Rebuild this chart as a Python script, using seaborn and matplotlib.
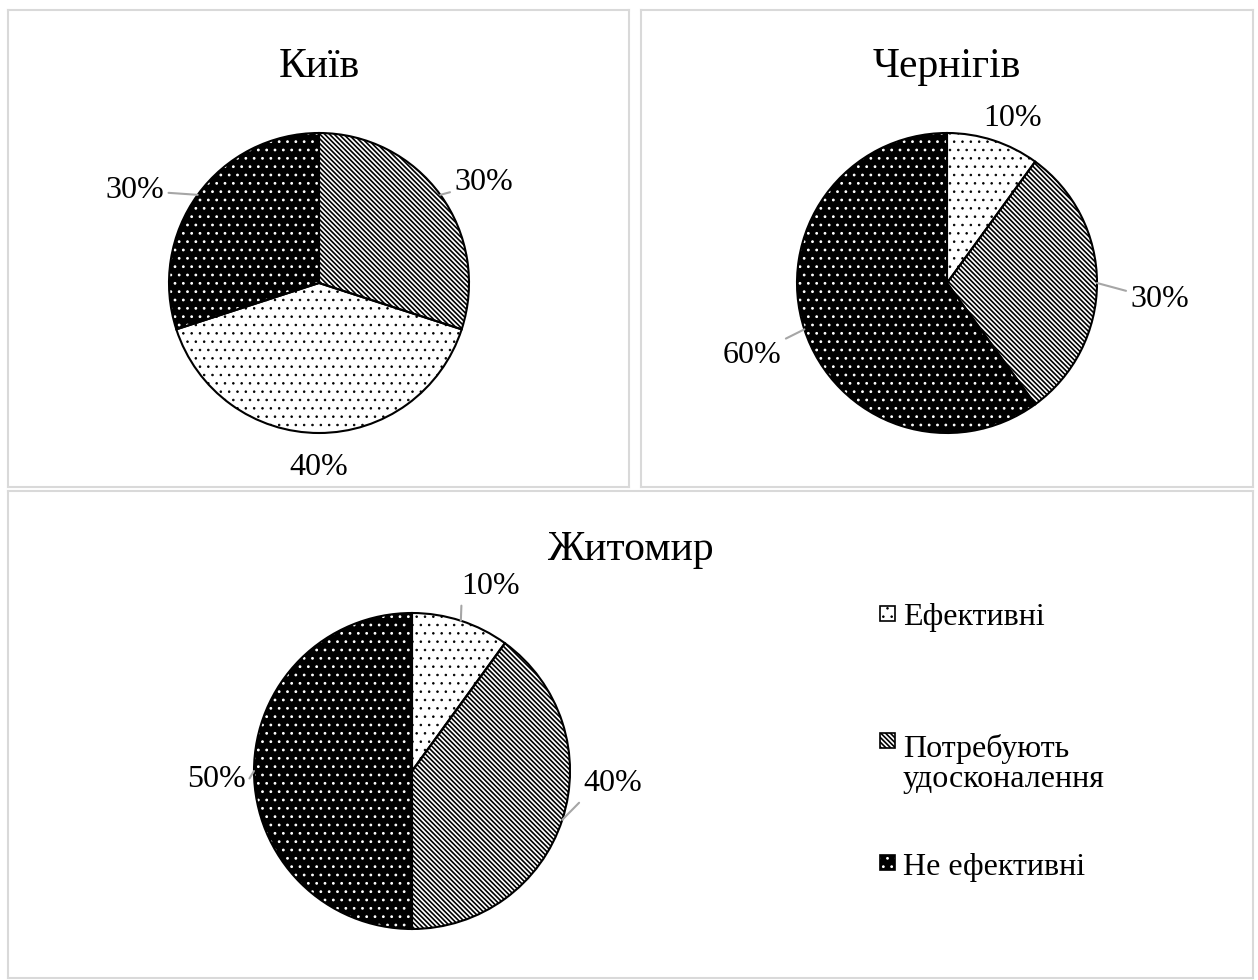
import matplotlib
matplotlib.use("Agg")
import matplotlib.pyplot as plt
from matplotlib.patches import Rectangle
import seaborn as sns
import numpy as np

# data
categories = ["Ефективні", "Потребують удосконалення", "Не ефективні"]
cities = ["Київ", "Чернігів", "Житомир"]
kyiv = [40, 30, 30]
chernihiv = [10, 30, 60]
zhytomyr = [10, 40, 50]

# styles per category
face = ["white", "white", "black"]
hatch_col = ["black", "black", "white"]
hatches = ["..", "\\" * 7, ".."]
hatch_lw = [0.6, 1.2, 0.8]

sns.set_style("white")
plt.rcParams["font.family"] = ["Liberation Serif", "DejaVu Serif"]
plt.rcParams["text.color"] = "black"
plt.rcParams["hatch.linewidth"] = 0.8

fig = plt.figure(figsize=(12.58, 9.8), dpi=100)
W, H = 1258, 980


def style_patch(p, i):
    p.set_facecolor(face[i])
    p.set_edgecolor(hatch_col[i])
    p.set_hatch(hatches[i])
    if hasattr(p, "set_hatch_linewidth"):
        p.set_hatch_linewidth(hatch_lw[i])


def box_axes(x0, y0, x1, y1):
    # axes covering a pixel box of the figure
    ax = fig.add_axes([x0 / W, (H - y1) / H, (x1 - x0) / W, (y1 - y0) / H])
    ax.set_xticks([])
    ax.set_yticks([])
    for s in ax.spines.values():
        s.set_color("#d9d9d9")
        s.set_linewidth(1.5)
    return ax


def draw_pie(ax, vals, order, lab_pos, leaders, relpos=None):
    v = [vals[i] for i in order]
    w1, _ = ax.pie(v, startangle=90, counterclock=False, frame=True,
                   wedgeprops=dict(linewidth=0))
    for w, i in zip(w1, order):
        style_patch(w, i)
    w2, _ = ax.pie(v, startangle=90, counterclock=False, frame=True,
                   colors=["none"] * 3,
                   wedgeprops=dict(linewidth=1.5, edgecolor="black"))
    for w, i in zip(w2, order):
        mid = np.deg2rad((w.theta1 + w.theta2) / 2)
        edge = (np.cos(mid), np.sin(mid))
        props = None
        if leaders[i]:
            props = dict(arrowstyle="-", color="#a6a6a6", lw=1.5,
                         shrinkA=1, shrinkB=0)
            if relpos is not None and relpos[i] is not None:
                props["relpos"] = relpos[i]
        ax.annotate(f"{vals[i]}%", xy=edge, xytext=lab_pos[i],
                    ha="center", va="center_baseline", fontsize=23,
                    arrowprops=props)
    ax.set_aspect("auto")


# Київ
ax1 = box_axes(8, 10, 629, 487)
draw_pie(ax1, kyiv, [1, 0, 2],
         [(0.0, -1.21), (1.10, 0.69), (-1.23, 0.64)], [False, True, True])
ax1.set_xlim(-311 / 150, 310 / 150)
ax1.set_ylim(-204 / 150, 273 / 150)
ax1.text(0, 1.47, cities[0], ha="center", va="center_baseline", fontsize=30)

# Чернігів
ax2 = box_axes(641, 10, 1253, 487)
draw_pie(ax2, chernihiv, [0, 1, 2],
         [(0.44, 1.12), (1.42, -0.09), (-1.30, -0.46)], [False, True, True])
ax2.set_xlim(-306 / 150, 306 / 150)
ax2.set_ylim(-204 / 150, 273 / 150)
ax2.text(0, 1.47, cities[1], ha="center", va="center_baseline", fontsize=30)

# Житомир
r3 = 158
ax3 = box_axes(8, 491, 1253, 978)
draw_pie(ax3, zhytomyr, [0, 1, 2],
         [(0.50, 1.19), (1.27, -0.06), (-1.24, -0.03)], [True, True, True],
         relpos=[(0, 0.1), (0, 0), (1, 0.3)])
ax3.set_xlim(-404 / r3, 841 / r3)
ax3.set_ylim(-207 / r3, 280 / r3)
ax3.text(0.5, 1 - 54 / 487, cities[2], transform=ax3.transAxes,
         ha="center", va="center_baseline", fontsize=30)

# legend (manual, to keep Excel-like spacing)
leg_sq_y = [614, 740, 862]
leg_base_y = [625, 787, 875]   # baseline of last line
sq = 15
for i, cat in enumerate(categories):
    x0 = (880 - 412) / r3
    y0 = (771 - leg_sq_y[i] - sq / 2) / r3
    p = Rectangle((x0, y0), sq / r3, sq / r3, lw=0)
    style_patch(p, i)
    ax3.add_patch(p)
    ax3.add_patch(Rectangle((x0, y0), sq / r3, sq / r3, facecolor="none",
                            edgecolor="black", lw=1.2))
    lab = cat.replace(" ", "\n", 1) if len(cat) > 15 else cat
    ax3.text((903 - 412) / r3, (771 - leg_base_y[i]) / r3, lab,
             ha="left", va="baseline", fontsize=23, linespacing=1.05)

fig.savefig("out.png", dpi=100)
